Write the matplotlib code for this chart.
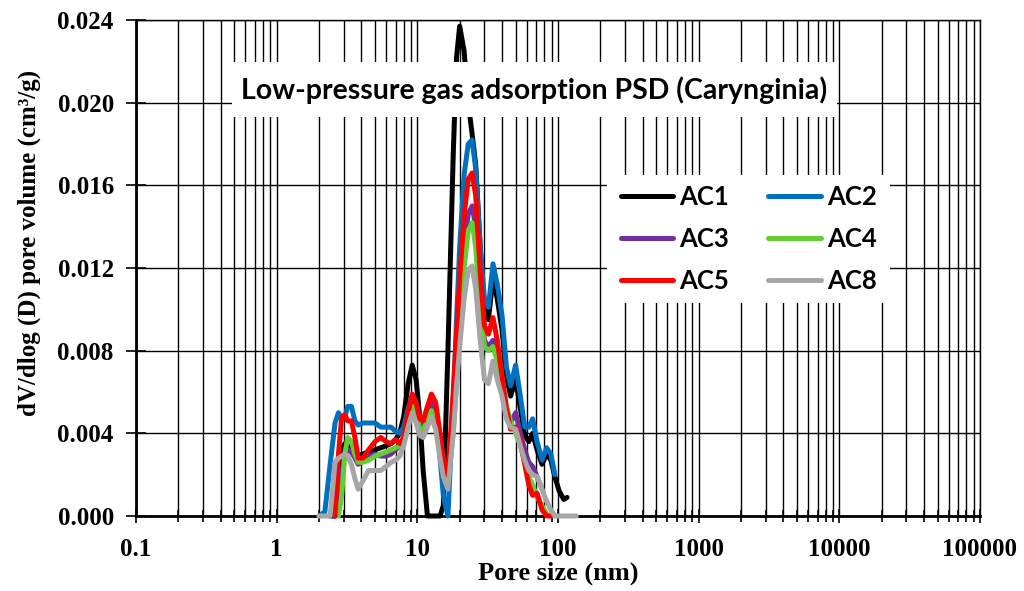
import numpy as np
import matplotlib
matplotlib.use('Agg')
import matplotlib.pyplot as plt
from matplotlib.patches import Rectangle
from matplotlib.ticker import LogLocator, FixedLocator, FixedFormatter, NullFormatter

nan = np.nan

# pore size (nm), shared by all series
pore_size = [2.0, 2.2, 2.4, 2.6, 2.75, 2.9, 3.05, 3.2, 3.4, 3.6, 3.8, 4.1, 4.5, 5.0, 5.5,
             6.0, 6.5, 7.0, 7.5, 8.0, 8.6, 9.2, 9.8, 10.4, 11.0, 11.8, 12.6, 13.5, 14.5, 15.3,
             16.5, 18.0, 19.0, 20.0, 21.5, 23.0, 24.5, 26.0, 28.0, 30.0, 32.0, 34.5, 37.0, 40.0,
             43.0, 46.0, 50.0, 54.0, 58.0, 62.0, 66.0, 71.0, 77.0, 83.0, 89.0, 95.0, 102.0,
             110.0, 116.0, 125.0, 135.0]

ac1 = [nan, nan, 0.0, 0.0, 0.0022, 0.0032, 0.0035, 0.0034, 0.0031, 0.0029, 0.0029, 0.0030, 0.0031, 0.0032, 0.0033,
       0.0034, 0.0035, 0.0037, 0.0040, 0.0048, 0.0064, 0.0073, 0.0066, 0.0048, 0.0022, 0.0, 0.0, 0.0, 0.0, 0.0005,
       0.0080, 0.0175, 0.0222, 0.0237, 0.0225, 0.0200, 0.0185, 0.0170, 0.0130, 0.0100, 0.0095, 0.0115, 0.0105, 0.0090,
       0.0068, 0.0058, 0.0066, 0.0052, 0.0039, 0.0036, 0.0040, 0.0032, 0.0025, 0.0030, 0.0027, 0.0019, 0.0012,
       0.0008, 0.0009, nan, nan]

ac2 = [0.0, 0.0002, 0.0025, 0.0045, 0.0050, 0.0047, 0.0048, 0.0053, 0.0053, 0.0046, 0.0044, 0.0045, 0.0045, 0.0045, 0.0043,
       0.0043, 0.0043, 0.0041, 0.0040, 0.0043, 0.0052, 0.0058, 0.0054, 0.0048, 0.0046, 0.0052, 0.0057, 0.0050, 0.0028, 0.0010,
       0.0, 0.0055, 0.0095, 0.0130, 0.0165, 0.0180, 0.0182, 0.0168, 0.0130, 0.0105, 0.0101, 0.0122, 0.0112, 0.0097,
       0.0072, 0.0063, 0.0073, 0.0058, 0.0043, 0.0043, 0.0047, 0.0036, 0.0027, 0.0033, 0.0030, 0.0020, nan,
       nan, nan, nan, nan]

ac3 = [nan, nan, nan, 0.0, 0.0005, 0.0020, 0.0030, 0.0032, 0.0031, 0.0028, 0.0025, 0.0027, 0.0029, 0.0030, 0.0029,
       0.0029, 0.0030, 0.0032, 0.0034, 0.0038, 0.0048, 0.0055, 0.0050, 0.0044, 0.0043, 0.0050, 0.0055, 0.0050, 0.0035, 0.0025,
       0.0016, 0.0050, 0.0078, 0.0100, 0.0130, 0.0146, 0.0150, 0.0140, 0.0108, 0.0085, 0.0082, 0.0085, 0.0078, 0.0064,
       0.0052, 0.0045, 0.0050, 0.0040, 0.0032, 0.0026, 0.0024, 0.0019, 0.0013, nan, nan, nan, nan,
       nan, nan, nan, nan]

ac4 = [nan, nan, nan, nan, 0.0, 0.0010, 0.0030, 0.0038, 0.0036, 0.0030, 0.0026, 0.0026, 0.0027, 0.0029, 0.0030,
       0.0031, 0.0032, 0.0033, 0.0034, 0.0038, 0.0047, 0.0053, 0.0049, 0.0042, 0.0041, 0.0047, 0.0051, 0.0046, 0.0033, 0.0024,
       0.0017, 0.0040, 0.0065, 0.0088, 0.0120, 0.0138, 0.0142, 0.0130, 0.0100, 0.0082, 0.0080, 0.0082, 0.0075, 0.0063,
       0.0053, 0.0046, 0.0040, 0.0034, 0.0026, 0.0019, 0.0015, 0.0009, 0.0005, 0.0001, 0.0, nan, nan,
       nan, nan, nan, nan]

ac5 = [nan, nan, nan, 0.0, 0.0030, 0.0048, 0.0049, 0.0046, 0.0046, 0.0038, 0.0028, 0.0028, 0.0032, 0.0036, 0.0038,
       0.0036, 0.0035, 0.0037, 0.0035, 0.0038, 0.0050, 0.0059, 0.0055, 0.0047, 0.0046, 0.0053, 0.0059, 0.0055, 0.0040, 0.0028,
       0.0019, 0.0060, 0.0088, 0.0115, 0.0145, 0.0163, 0.0166, 0.0155, 0.0118, 0.0092, 0.0088, 0.0096, 0.0085, 0.0068,
       0.0052, 0.0042, 0.0043, 0.0036, 0.0025, 0.0015, 0.0010, 0.0011, 0.0003, 0.0, 0.0, nan, nan,
       nan, nan, nan, nan]

ac8 = [0.0, 0.0, 0.0, 0.0026, 0.0028, 0.0029, 0.0030, 0.0029, 0.0025, 0.0018, 0.0013, 0.0017, 0.0022, 0.0022, 0.0022,
       0.0024, 0.0026, 0.0027, 0.0029, 0.0034, 0.0043, 0.0050, 0.0045, 0.0039, 0.0038, 0.0043, 0.0048, 0.0042, 0.0028, 0.0019,
       0.0013, 0.0040, 0.0063, 0.0082, 0.0105, 0.0119, 0.0121, 0.0110, 0.0085, 0.0066, 0.0064, 0.0075, 0.0066, 0.0058,
       0.0047, 0.0043, 0.0042, 0.0034, 0.0027, 0.0022, 0.0020, 0.0019, 0.0013, 0.0007, 0.0003, 0.0, 0.0,
       0.0, 0.0, 0.0, 0.0]

series_names = ['AC1', 'AC2', 'AC3', 'AC4', 'AC5', 'AC8']
series_colors = ['#000000', '#0070C0', '#7030A0', '#66CC33', '#FF0000', '#A6A6A6']
series_values = [ac1, ac2, ac3, ac4, ac5, ac8]

x_ticks = [0.1, 1, 10, 100, 1000, 10000, 100000]
x_tick_labels = ['0.1', '1', '10', '100', '1000', '10000', '100000']
y_ticks = [0.000, 0.004, 0.008, 0.012, 0.016, 0.020, 0.024]

fig = plt.figure(figsize=(10.24, 5.91), dpi=100)
ax = fig.add_axes([136 / 1024, 75 / 591, 844 / 1024, 496 / 591])

lines = {}
for name, color, vals in zip(series_names, series_colors, series_values):
    ln, = ax.plot(pore_size, vals, color=color, lw=3.6, label=name,
                  solid_joinstyle='round', solid_capstyle='round', clip_on=False, zorder=3)
    lines[name] = ln

ax.set_xscale('log')
ax.set_xlim(0.1, 100000)
ax.set_ylim(0, 0.024)

ax.xaxis.set_major_locator(FixedLocator(x_ticks))
ax.xaxis.set_major_formatter(FixedFormatter(x_tick_labels))
ax.xaxis.set_minor_locator(LogLocator(base=10, subs=range(2, 10), numticks=20))
ax.xaxis.set_minor_formatter(NullFormatter())
ax.set_yticks(y_ticks)
ax.set_yticklabels(['%.3f' % v for v in y_ticks])

ax.set_axisbelow(True)
ax.grid(True, which='both', axis='x', color='black', lw=1)
ax.grid(True, which='major', axis='y', color='black', lw=1)

ax.tick_params(axis='x', which='major', direction='inout', length=10, width=1.2, pad=11)
ax.tick_params(axis='x', which='minor', direction='inout', length=8, width=1.2)
ax.tick_params(axis='y', which='major', direction='inout', length=14, width=1.2, pad=9)
for lab in ax.get_xticklabels() + ax.get_yticklabels():
    lab.set_fontfamily('Liberation Serif')
    lab.set_fontweight('bold')
    lab.set_fontsize(18)

for side in ['left', 'bottom']:
    ax.spines[side].set_linewidth(2)
for side in ['top', 'right']:
    ax.spines[side].set_linewidth(1)

ax.set_xlabel('Pore size (nm)', fontfamily='Liberation Serif', fontweight='bold', fontsize=19, labelpad=0)
ax.set_ylabel('dV/dlog (D) pore volume (cm³/g)', fontfamily='Liberation Serif', fontweight='bold', fontsize=18)
ax.yaxis.set_label_coords(-0.112, 0.55)

# white box behind the title text
ax.add_patch(Rectangle((0.1137, 0.8044), 0.7169, 0.1109, transform=ax.transAxes,
                       facecolor='white', edgecolor='none', zorder=4))
ax.text(0.4716, 0.859, 'Low-pressure gas adsorption PSD (Carynginia)', transform=ax.transAxes,
        ha='center', va='center', fontsize=20.5, fontweight='bold', fontfamily='Lato', zorder=5)

# white box behind the legend
ax.add_patch(Rectangle((0.558, 0.4294), 0.335, 0.2581, transform=ax.transAxes,
                       facecolor='white', edgecolor='none', zorder=4))
order = ['AC1', 'AC3', 'AC5', 'AC2', 'AC4', 'AC8']
leg = ax.legend([lines[n] for n in order], order, ncol=2, loc='center',
                bbox_to_anchor=(0.7257, 0.559), frameon=False,
                prop={'family': 'Lato', 'weight': 'bold', 'size': 18.5},
                handlelength=2.06, handletextpad=0.23, columnspacing=1.5,
                labelspacing=0.7, borderpad=0)
leg.set_zorder(6)

fig.savefig('out.png', dpi=100)
